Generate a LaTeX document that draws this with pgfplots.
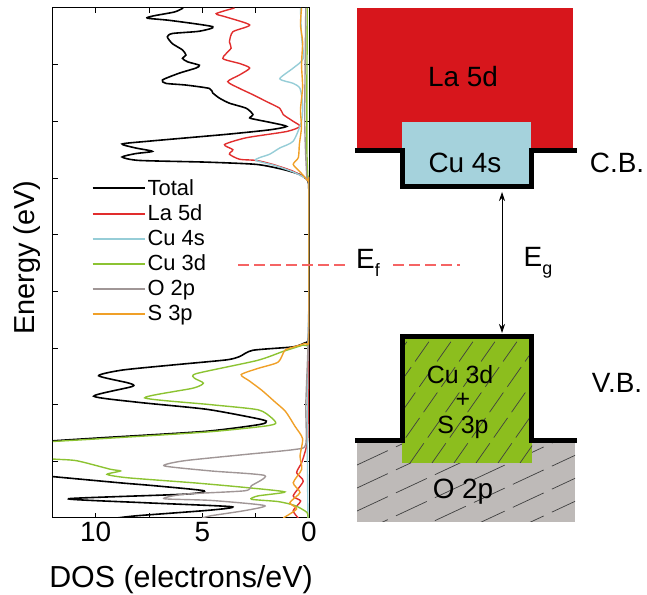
\documentclass[border=0pt]{standalone}
\usepackage{pgfplots}
\pgfplotsset{compat=1.18}
\usepackage{fontspec}
\setmainfont{Liberation Sans}
\usetikzlibrary{arrows.meta}
\definecolor{cRed}{RGB}{225,45,45}
\definecolor{cBlue}{RGB}{150,205,215}
\definecolor{cGreen}{RGB}{140,195,50}
\definecolor{cGray}{RGB}{160,150,150}
\definecolor{cOrange}{RGB}{240,160,40}
\definecolor{fRed}{RGB}{215,22,28}
\definecolor{fBlue}{RGB}{165,210,220}
\definecolor{fGreen}{RGB}{140,190,30}
\definecolor{fGray}{RGB}{190,186,184}
\definecolor{cEf}{RGB}{245,100,100}
\newcommand{\tl}[1]{\mbox{\fontsize{28}{28}\selectfont #1}}
\begin{document}
\begin{tikzpicture}[x=1bp,y=1bp]
\useasboundingbox (0,0) rectangle (647,595);
\begin{axis}[
  at={(53bp,77bp)}, anchor=south west,
  scale only axis, width=256bp, height=510bp,
  x dir=reverse, xmin=0, xmax=12, ymin=-3, ymax=6,
  xtick={0,5,10}, minor xtick={2.5,7.5},
  xticklabels={\tl{0},\tl{5},\tl{10}},
  ytick={-2,-1,0,1,2,3,4,5}, yticklabels={},
  tick align=inside, major tick length=5bp, minor tick length=5bp,
  axis line style={line width=1bp},
  every tick/.style={line width=0.9bp, black},
  xticklabel style={yshift=-1bp},
  xlabel={DOS (electrons/eV)},
  ylabel={Energy (eV)},
  x label style={font=\fontsize{30.5}{30.5}\selectfont, at={(axis description cs:0.5,-0.12)}, anchor=center},
  y label style={font=\fontsize{29}{29}\selectfont, at={(axis description cs:-0.102,0.51)}, anchor=center},
  legend style={at={(axis description cs:0.15,0.668)}, anchor=north west, draw=none, fill=none,
    font=\fontsize{22}{22}\selectfont, row sep=4bp, inner sep=0pt, cells={anchor=west}},
  legend image code/.code={\draw[#1, line width=2bp] (0bp,0bp) -- (52bp,0bp);},
  every axis plot/.append style={line width=1.4bp, smooth, tension=0.4},
]
% Total
\addplot[black, line width=1.6bp] coordinates {
(5.9,6.0) (6.3,5.93) (7.3,5.86) (7.58,5.82) (6.5,5.78) (4.51,5.67) (5.14,5.59) (6.40,5.55) (6.64,5.49) (6.40,5.37) (5.93,5.26) (5.77,5.17) (5.93,5.11) (5.69,5.05) (5.14,4.99) (5.30,4.94) (6.08,4.85) (6.87,4.73) (6.71,4.67) (5.77,4.64) (4.67,4.58) (4.51,4.50) (4.20,4.41) (3.73,4.32) (2.94,4.23) (2.63,4.12) (2.78,4.06) (2.47,4.03) (1.68,3.97) (1.05,3.91) (1.84,3.85) (3.88,3.77) (7.5,3.65) (8.76,3.60) (8.13,3.53) (7.34,3.47) (8.13,3.43) (8.76,3.37) (7.97,3.31) (4.83,3.28) (2.47,3.24) (1.21,3.15) (0.42,3.06) (0.11,2.98) (0.02,2.9) (0,2.5) (0,1.0) (0,0.3) (0.05,0.12) (0.2,0.09) (0.74,0.02) (2.63,-0.04) (3.25,-0.15) (3.88,-0.21) (6.40,-0.30) (8.76,-0.39) (9.86,-0.49) (8.44,-0.62) (8.29,-0.68) (10.09,-0.85) (7.97,-0.96) (4.83,-1.08) (2.63,-1.23) (2.0,-1.29) (2.31,-1.35) (4.83,-1.47) (9.55,-1.58) (12.06,-1.64) (14,-1.7) (15,-1.9) (14,-2.2) (12,-2.27) (8.84,-2.38) (7.26,-2.43) (4.91,-2.52) (5.85,-2.58) (11.27,-2.66) (7.74,-2.73) (3.65,-2.80) (4.59,-2.86) (8.05,-2.96) (9,-3.0)};
\addlegendentry{Total}
% La 5d
\addplot[cRed] coordinates {
(3.49,6.0) (4.35,5.90) (3.88,5.84) (2.78,5.70) (3.57,5.58) (3.73,5.40) (3.65,5.29) (4.04,5.11) (3.25,5.02) (2.78,4.94) (3.25,4.82) (3.81,4.70) (3.25,4.58) (2.63,4.47) (2.0,4.35) (1.37,4.23) (1.21,4.12) (0.74,4.0) (0.42,3.91) (1.05,3.82) (2.94,3.71) (3.96,3.59) (3.57,3.50) (3.73,3.42) (3.25,3.33) (2.47,3.31) (1.7,3.24) (0.75,3.12) (0.1,2.98) (0,2.9) (0,1.0) (0.02,0.0) (0.05,-1.5) (0.11,-1.73) (0.34,-2.02) (0.58,-2.2) (0.27,-2.35) (0.74,-2.61) (0.39,-2.7) (0.74,-2.87) (0.5,-3.0)};
\addlegendentry{La 5d}
% Cu 4s
\addplot[cBlue] coordinates {
(0.4,6.0) (0.35,5.5) (0.27,5.11) (0.74,4.94) (1.37,4.75) (0.74,4.67) (0.42,4.58) (0.3,4.3) (0.35,4.0) (0.74,3.65) (1.37,3.53) (1.84,3.42) (2.31,3.36) (2.5,3.31) (1.6,3.22) (0.7,3.1) (0.1,2.98) (0,2.9) (0,1.0) (0.05,0.0) (0.08,-1.5) (0.05,-3.0)};
\addlegendentry{Cu 4s}
% Cu 3d
\addplot[cGreen] coordinates {
(0.08,6.0) (0.1,4.5) (0.1,3.5) (0.05,3.0) (0,2.9) (0,1.0) (0,0.1) (0.3,0.05) (1.21,-0.06) (2.43,-0.22) (5.26,-0.45) (5.38,-0.53) (4.95,-0.62) (5.45,-0.71) (7.7,-0.88) (4.6,-1.0) (2.39,-1.09) (1.76,-1.23) (1.56,-1.33) (2.1,-1.38) (4.7,-1.48) (9.3,-1.59) (12,-1.65) (14,-1.7) (15,-1.8) (14,-1.9) (11.98,-1.96) (10.88,-1.99) (9.31,-2.14) (8.84,-2.17) (9.47,-2.23) (8.51,-2.29) (5.38,-2.38) (3.02,-2.46) (1.13,-2.54) (2.39,-2.61) (2.70,-2.67) (1.45,-2.71) (0.66,-2.78) (0.1,-2.9) (0.05,-3.0)};
\addlegendentry{Cu 3d}
% O 2p
\addplot[cGray] coordinates {
(0.15,6.0) (0.2,4.0) (0.1,3.0) (0,2.9) (0,1.0) (0.05,0.0) (0.15,-1.0) (0.15,-1.7) (0.66,-1.79) (3.02,-1.88) (5.85,-1.99) (6.79,-2.08) (4.59,-2.17) (2.08,-2.25) (2.70,-2.43) (3.02,-2.52) (5.85,-2.58) (6.79,-2.66) (4.59,-2.69) (2.08,-2.78) (3.02,-2.87) (4.59,-2.96) (5,-3.0)};
\addlegendentry{O 2p}
% S 3p
\addplot[cOrange] coordinates {
(0.35,6.0) (0.4,5.7) (0.3,5.4) (0.35,5.0) (0.3,4.6) (0.4,4.2) (0.35,3.9) (0.45,3.6) (0.5,3.36) (0.74,3.24) (0.4,3.1) (0.05,2.95) (0,2.9) (0,1.0) (0,0.12) (0.19,0.08) (0.7,0.02) (1.13,-0.04) (1.45,-0.25) (2.39,-0.36) (3.18,-0.47) (2.8,-0.58) (2.2,-0.75) (1.6,-0.95) (1.1,-1.12) (0.66,-1.38) (0.3,-1.6) (0.42,-1.91) (0.34,-2.14) (0.74,-2.38) (0.42,-2.55) (0.9,-2.73) (0.58,-2.84) (1.21,-3.0)};
\addlegendentry{S 3p}
\end{axis}
% ---- band diagram ----
\def\bigfont{\fontsize{28}{28}\selectfont}
\def\midfont{\fontsize{25}{25}\selectfont}
% conduction band
\fill[fRed] (357,447) rectangle (573,587);
\fill[fBlue] (402,408) rectangle (531,473);
\draw[line width=5bp, line join=miter] (355,444) -- (402,444) -- (402,408) -- (531,408) -- (531,444) -- (577,444);
\node[font=\bigfont] at (463,518) {La 5d};
\node[font=\bigfont] at (465,432) {Cu 4s};
\node[font=\bigfont] at (617,432) {C.B.};
% valence band
\fill[fGray] (357,73) rectangle (575,153);
\begin{scope}
\clip (357,73) rectangle (575,153);
\foreach \k in {0,...,9} {
  \draw[black!75, line width=0.7bp, dash pattern=on 34bp off 9bp] (357,{153-23*\k}) -- ++(25:300);
}
\end{scope}
\fill[fGreen] (402,132) rectangle (532,260);
\begin{scope}
\clip (402,132) rectangle (532,260);
\foreach \k in {0,...,11} {
  \draw[black!75, line width=0.7bp, dash pattern=on 24bp off 7bp] ({300+22*\k},132) -- ++(55:200);
}
\end{scope}
\draw[line width=5bp, line join=miter] (355,154) -- (402,154) -- (402,258) -- (531,258) -- (531,154) -- (577,154);
\node[font=\midfont, inner sep=0pt] at (460,220) {Cu 3d};
\node[font=\midfont, inner sep=0pt] at (463,195) {+};
\node[font=\midfont, inner sep=0pt] at (463,168) {S 3p};
\node[font=\bigfont] at (463,103) {O 2p};
\node[font=\bigfont] at (617,212) {V.B.};
% gap arrow
\draw[{Stealth[length=9bp,width=6bp]}-{Stealth[length=9bp,width=6bp]}, line width=0.8bp] (502,262) -- (502,403);
\node[font=\bigfont] at (538,332) {E\raisebox{-0.3em}{\fontsize{18}{18}\selectfont g}};
% Fermi level
\draw[cEf, line width=2.5bp, dash pattern=on 11bp off 5bp] (238,330) -- (350,330);
\draw[cEf, line width=2.5bp, dash pattern=on 11bp off 5bp] (393,330) -- (460,330);
\node[font=\bigfont] at (368,332) {E\raisebox{-0.3em}{\fontsize{18}{18}\selectfont f}};
\end{tikzpicture}
\end{document}
